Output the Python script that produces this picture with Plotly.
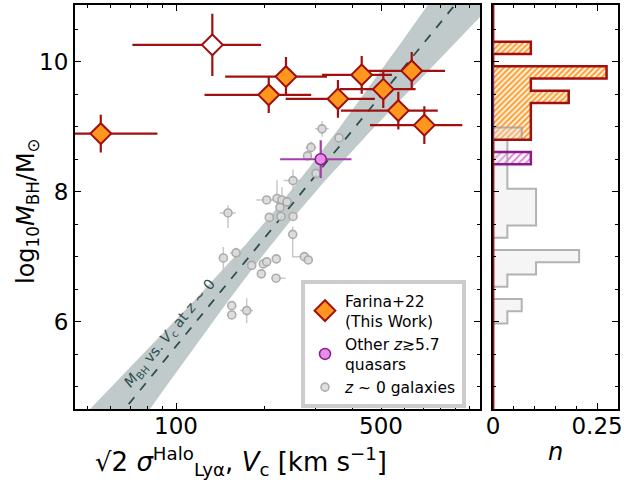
import numpy as np
import plotly.graph_objects as go

# ---------------- data ----------------
# Farina+22 (this work), filled diamonds
far_vc = [55.4, 207.1, 237.1, 356.6, 429.7, 509.0, 636.4, 572.8, 702.6]
far_vc_err = [31, 82, 90, 120, 115, 147, 190, 208, 244]
far_mbh = [8.892, 9.488, 9.769, 9.426, 9.795, 9.575, 9.857, 9.246, 9.022]
far_mbh_err = [0.29, 0.28, 0.30, 0.29, 0.29, 0.29, 0.29, 0.29, 0.29]
# Farina+22 open diamond
far_open_vc = [133.0]
far_open_vc_err = [62]
far_open_mbh = [10.257]
far_open_mbh_err = [0.48]
# Other z>=5.7 quasars
oth_vc = [311.5]
oth_vc_err = [85]
oth_mbh = [8.498]
oth_mbh_err = [0.29]
# z~0 galaxies
gal_vc = [314.7, 359.5, 288.6, 280.7, 300.2, 250.6, 203.8, 221.0, 229.8, 239.0,
          226.2, 150.4, 208.0, 250.6, 228.0, 250.0, 273.8, 282.5, 145.0, 160.2,
          181.2, 198.5, 203.8, 219.8, 195.4, 219.3, 154.9, 154.9, 174.2]
gal_mbh = [8.965, 8.826, 8.680, 8.549, 8.280, 8.169, 7.872, 7.895, 7.872, 7.842,
           7.757, 7.672, 7.603, 7.618, 7.618, 7.342, 7.000, 6.949, 6.980, 7.057,
           6.865, 6.888, 6.920, 6.965, 6.735, 6.668, 6.246, 6.103, 6.170]
gal_vc_err_plus = [17, 0, 12, 8, 0, 18, 16, 0, 0, 0, 0, 9.5, 0, 0, 0, 0, 0, 0, 0, 7.5,
                   0, 0, 0, 0, 0, 17, 0, 0, 9]
gal_vc_err_minus = [17, 0, 12, 8, 0, 18, 16, 0, 0, 0, 0, 9.5, 0, 0, 0, 0, 24, 0, 0, 7.5,
                    0, 0, 0, 0, 0, 0, 0, 0, 9]
gal_mbh_err_plus = [0.12, 0, 0.09, 0.06, 0, 0.17, 0, 0.28, 0.2, 0, 0, 0.12, 0, 0, 0, 0.12,
                    0, 0, 0.17, 0.08, 0, 0, 0, 0, 0, 0, 0, 0, 0.19]
gal_mbh_err_minus = [0.12, 0, 0.09, 0.06, 0, 0.17, 0, 0.28, 0.2, 0, 0, 0.23, 0, 0, 0, 0.35,
                     0, 0, 0.37, 0.23, 0, 0, 0, 0, 0, 0, 0, 0, 0.19]

# local M_BH - V_c relation (pivot form) and its uncertainty band
REL_PIVOT_LOGV = 2.366
REL_PIVOT_MBH = 7.642
REL_SLOPE = 5.52
REL_SIG_PIVOT = 0.226
REL_SIG_SLOPE = 0.92

# axis ranges
X_LOG_RANGE = [1.6556, 3.0365]
Y_RANGE = [4.652, 10.87]
N_RANGE = [0, 0.299]
N_HIST_BINS = 33

x_tickvals = [100, 500]
x_ticktext = ["100", "500"]
x_minor = [50, 60, 70, 80, 90, 200, 300, 400, 600, 700, 800, 900, 1000]

# ---------------- figure ----------------
FONT = "DejaVu Sans"
DARKRED = "#a01010"
ORANGE = "#ff961e"
DSG = "#2f4f4f"

fig = go.Figure()

# band + dashed relation
L = np.linspace(X_LOG_RANGE[0] - 0.05, X_LOG_RANGE[1] + 0.05, 300)
yl = REL_PIVOT_MBH + REL_SLOPE * (L - REL_PIVOT_LOGV)
w = np.sqrt(REL_SIG_PIVOT ** 2 + (REL_SIG_SLOPE * (L - REL_PIVOT_LOGV)) ** 2)
vx = 10 ** L
fig.add_trace(go.Scatter(x=np.concatenate([vx, vx[::-1]]),
                         y=np.concatenate([yl + w, (yl - w)[::-1]]),
                         fill="toself", fillcolor="rgba(47,79,79,0.3)",
                         line=dict(width=0), mode="lines", showlegend=False,
                         hoverinfo="skip", xaxis="x", yaxis="y"))
fig.add_trace(go.Scatter(x=vx, y=yl, mode="lines",
                         line=dict(color=DSG, width=1.8, dash="dash"),
                         showlegend=False, xaxis="x", yaxis="y"))

# galaxies
fig.add_trace(go.Scatter(
    x=gal_vc, y=gal_mbh, mode="markers", name="<i>z</i> ~ 0 galaxies",
    marker=dict(symbol="circle", size=8, color="rgba(218,218,218,0.9)",
                line=dict(color="rgba(165,165,165,0.9)", width=1.6)),
    error_x=dict(type="data", symmetric=False, array=gal_vc_err_plus,
                 arrayminus=gal_vc_err_minus, color="rgba(195,195,195,0.9)",
                 thickness=1.5, width=0),
    error_y=dict(type="data", symmetric=False, array=gal_mbh_err_plus,
                 arrayminus=gal_mbh_err_minus, color="rgba(195,195,195,0.9)",
                 thickness=1.5, width=0),
    legendrank=3, xaxis="x", yaxis="y"))

# other quasars
fig.add_trace(go.Scatter(
    x=oth_vc, y=oth_mbh, mode="markers", name="Other <i>z</i>≳5.7<br>quasars",
    marker=dict(symbol="circle", size=11, color="#e88ee8",
                line=dict(color="#8b1a8b", width=1.5)),
    error_x=dict(type="data", array=oth_vc_err, color="#a83ca8", thickness=2.2, width=0),
    error_y=dict(type="data", array=oth_mbh_err, color="#a83ca8", thickness=2.2, width=0),
    legendrank=2, xaxis="x", yaxis="y"))

# Farina open
fig.add_trace(go.Scatter(
    x=far_open_vc, y=far_open_mbh, mode="markers", showlegend=False,
    marker=dict(symbol="diamond", size=16, color="white",
                line=dict(color=DARKRED, width=2)),
    error_x=dict(type="data", array=far_open_vc_err, color=DARKRED, thickness=2.2, width=0),
    error_y=dict(type="data", array=far_open_mbh_err, color=DARKRED, thickness=2.2, width=0),
    xaxis="x", yaxis="y"))

# Farina filled
fig.add_trace(go.Scatter(
    x=far_vc, y=far_mbh, mode="markers", name="Farina+22<br>(This Work)",
    marker=dict(symbol="diamond", size=16, color=ORANGE,
                line=dict(color=DARKRED, width=2)),
    error_x=dict(type="data", array=far_vc_err, color=DARKRED, thickness=2.2, width=0),
    error_y=dict(type="data", array=far_mbh_err, color=DARKRED, thickness=2.2, width=0),
    legendrank=1, xaxis="x", yaxis="y"))

# ---------------- histograms ----------------
edges = np.linspace(Y_RANGE[0], Y_RANGE[1], N_HIST_BINS + 1)
centers = 0.5 * (edges[:-1] + edges[1:])
bw = edges[1] - edges[0]
n_qso = len(far_mbh) + len(far_open_mbh) + len(oth_mbh)
h_far, _ = np.histogram(far_mbh + far_open_mbh, bins=edges)
h_far = h_far / n_qso
h_oth, _ = np.histogram(oth_mbh, bins=edges)
h_oth = h_oth / n_qso
h_gal, _ = np.histogram(gal_mbh, bins=edges)
h_gal = h_gal / len(gal_mbh)


def step_path(h):
    xs, ys = [0.0], [edges[0]]
    for i, c in enumerate(h):
        xs += [c, c]
        ys += [edges[i], edges[i + 1]]
    xs.append(0.0)
    ys.append(edges[-1])
    return xs, ys


fig.add_trace(go.Bar(y=centers, x=h_far, orientation="h", width=bw,
                     marker=dict(color="white", line=dict(width=0),
                                 pattern=dict(shape="/", fgcolor="#ff9c2e", bgcolor="#fff6ea",
                                              size=4, solidity=0.5)),
                     showlegend=False, xaxis="x2", yaxis="y2"))
fig.add_trace(go.Bar(y=centers, x=h_oth, orientation="h", width=bw,
                     marker=dict(color="white", line=dict(width=0),
                                 pattern=dict(shape="/", fgcolor="#e080e0", bgcolor="white",
                                              size=5, solidity=0.4)),
                     showlegend=False, xaxis="x2", yaxis="y2"))
fig.add_trace(go.Bar(y=centers, x=h_gal, orientation="h", width=bw,
                     marker=dict(color="rgba(225,225,225,0.35)", line=dict(width=0)),
                     showlegend=False, xaxis="x2", yaxis="y2"))
gx, gy = step_path(h_gal)
fig.add_trace(go.Scatter(x=gx, y=gy, mode="lines", line=dict(color="rgba(160,160,160,0.8)", width=2),
                         showlegend=False, xaxis="x2", yaxis="y2"))
px_, py_ = step_path(h_oth)
fig.add_trace(go.Scatter(x=px_, y=py_, mode="lines", line=dict(color="#8b1a8b", width=2.5),
                         showlegend=False, xaxis="x2", yaxis="y2"))
fx, fy = step_path(h_far)
fig.add_trace(go.Scatter(x=fx, y=fy, mode="lines", line=dict(color=DARKRED, width=2.5),
                         showlegend=False, xaxis="x2", yaxis="y2"))

W, H = 627, 482
tickfont = dict(family=FONT, size=23, color="black")
axis_common = dict(showline=True, linecolor="black", linewidth=2, mirror="ticks",
                   ticks="inside", ticklen=6, tickwidth=1.2, tickcolor="black",
                   showgrid=False, zeroline=False, tickfont=tickfont, automargin=False)


def ann(text, x, y, size, angle=0, color="black", xref="paper", yref="paper"):
    return dict(text=text, x=x, y=y, xref=xref, yref=yref, showarrow=False,
                xanchor="center", yanchor="middle", textangle=angle,
                font=dict(family=FONT, size=size, color=color))


fig.update_layout(
    template="none",
    width=W, height=H, margin=dict(l=0, r=0, t=0, b=0, pad=0),
    paper_bgcolor="white", plot_bgcolor="white",
    barmode="overlay", bargap=0,
    font=dict(family=FONT, color="black"),
    xaxis=dict(type="log", range=X_LOG_RANGE, domain=[75 / W, 480 / W], anchor="y",
               tickmode="array", tickvals=x_tickvals, ticktext=x_ticktext,
               ticklabelstandoff=-5,
               minor=dict(tickmode="array", tickvals=x_minor, ticks="inside", ticklen=3,
                          tickwidth=1, tickcolor="black"),
               **axis_common),
    yaxis=dict(range=Y_RANGE, domain=[(H - 409.3) / H, (H - 5) / H], anchor="x",
               tickmode="linear", tick0=0, dtick=2,
               minor=dict(dtick=0.5, ticks="inside", ticklen=3, tickwidth=1, tickcolor="black"),
               **axis_common),
    xaxis2=dict(range=N_RANGE, domain=[493 / W, 617.5 / W], anchor="y2",
                tickmode="array", tickvals=[0, 0.25], ticktext=["0", "0.25"],
                ticklabelstandoff=-5,
                minor=dict(dtick=0.05, tick0=0, ticks="inside", ticklen=3, tickwidth=1,
                           tickcolor="black"),
                **axis_common),
    yaxis2=dict(range=Y_RANGE, domain=[(H - 409.3) / H, (H - 5) / H], anchor="x2",
                matches="y", showticklabels=False, tickmode="linear", tick0=0, dtick=2,
                minor=dict(dtick=0.5, ticks="inside", ticklen=3, tickwidth=1, tickcolor="black"),
                **axis_common),
    legend=dict(x=301 / W, y=(H - 280) / H, xanchor="left", yanchor="top",
                bgcolor="white", bordercolor="#cccccc", borderwidth=4,
                font=dict(family=FONT, size=15.5, color="black"),
                traceorder="normal", tracegroupgap=2),
    annotations=[
        ann("log<sub>10</sub><i>M</i><sub>BH</sub>/M<sub>⊙</sub>", 27 / W, (H - 211) / H, 24, -90),
        ann("√2 <i>σ</i><sup>Halo</sup><sub>Lyα</sub>, <i>V</i><sub>c</sub> [km s<sup>−1</sup>]",
            241 / W, (H - 461) / H, 26),
        ann("<i>n</i>", 555 / W, (H - 452) / H, 24),
        ann("<i>M</i><sub>BH</sub> vs. <i>V</i><sub>c</sub> at <i>z</i> ~ 0",
            1.9795, 5.811, 14.5, -50.7, DSG, "x", "y"),
    ],
)

fig.write_html("out.html", config={"displayModeBar": False},
               post_script="document.body.style.margin='0px';document.body.style.padding='0px';")
